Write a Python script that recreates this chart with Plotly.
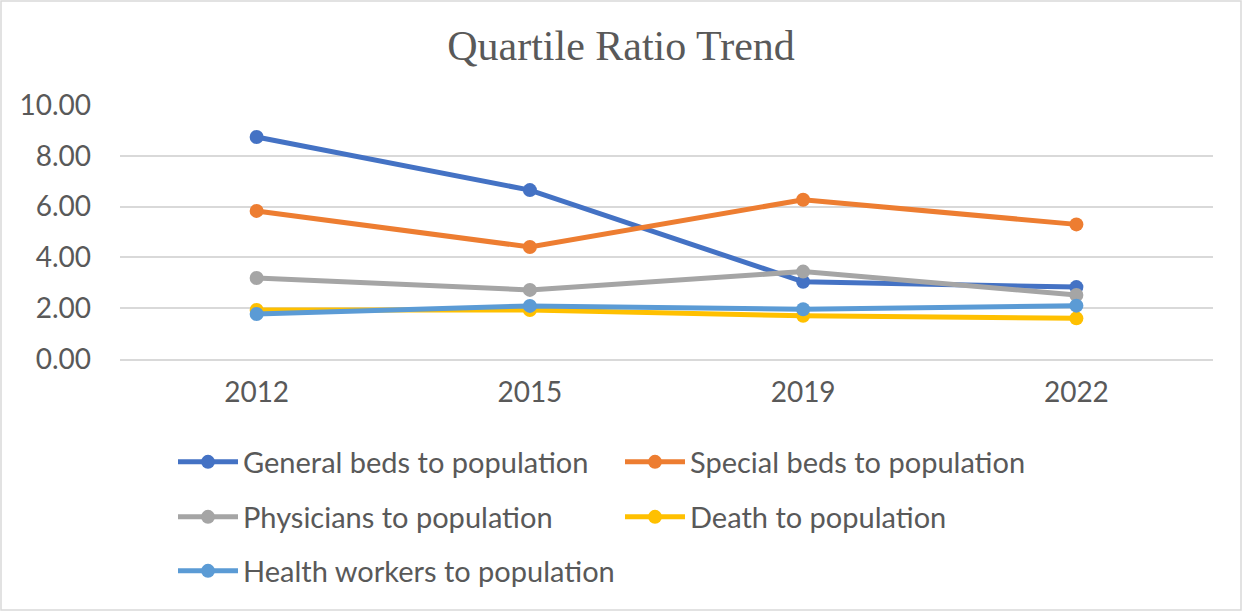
import plotly.graph_objects as go

years = ["2012", "2015", "2019", "2022"]
general_beds = [8.74, 6.65, 3.04, 2.83]
special_beds = [5.83, 4.41, 6.27, 5.30]
physicians = [3.19, 2.72, 3.44, 2.52]
deaths = [1.93, 1.93, 1.70, 1.60]
health_workers = [1.77, 2.09, 1.96, 2.10]
y_ticks = [0, 2, 4, 6, 8, 10]

W, H = 1242, 611
L, R, T, B = 120, 29, 105, 252
pw, ph = W - L - R, H - T - B

series = [
    ("General beds to population", general_beds, "#4472C4", "legend"),
    ("Special beds to population", special_beds, "#ED7D31", "legend"),
    ("Physicians to population", physicians, "#A5A5A5", "legend2"),
    ("Death to population", deaths, "#FFC000", "legend2"),
    ("Health workers to population", health_workers, "#5B9BD5", "legend3"),
]

fig = go.Figure()
for name, vals, color, leg in series:
    fig.add_trace(go.Scatter(
        x=years, y=vals, name=name, mode="lines+markers",
        line=dict(color=color, width=5),
        marker=dict(color=color, size=14),
        legend=leg,
    ))


def px_y(py):
    return (H - B - py) / ph


def px_x(px):
    return (px - L) / pw


text_font = "Lato, Carlito, sans-serif"
leg_font = dict(family=text_font, size=29, color="#595959")
common = dict(orientation="h", xanchor="left", yanchor="middle", font=leg_font,
              entrywidth=372, entrywidthmode="pixels", bgcolor="rgba(0,0,0,0)",
              itemwidth=60, traceorder="normal")

fig.update_layout(
    width=W, height=H,
    margin=dict(l=L, r=R, t=T, b=B),
    paper_bgcolor="white", plot_bgcolor="white",
    title=dict(text="Quartile Ratio Trend", x=0.5, xanchor="center",
               y=1 - 45 / H, yanchor="middle",
               font=dict(family="Liberation Serif, Times New Roman, serif", size=42, color="#595959")),
    legend=dict(x=px_x(173), y=px_y(462), **common),
    legend2=dict(x=px_x(173), y=px_y(517), **common),
    legend3=dict(x=px_x(173), y=px_y(571), **common),
    xaxis=dict(type="category", range=[-0.5, 3.5], showgrid=False,
               showline=True, linecolor="#d9d9d9", linewidth=1.5,
               ticks="", ticklabelstandoff=8,
               tickfont=dict(family=text_font, size=28, color="#595959")),
    yaxis=dict(range=[0, 10], tickvals=y_ticks, tickformat=".2f",
               showgrid=True, gridcolor="#d9d9d9", gridwidth=1.5, zeroline=False,
               ticks="", ticklabelstandoff=28,
               tickfont=dict(family=text_font, size=28, color="#595959")),
    shapes=[dict(type="rect", xref="paper", yref="paper",
                 x0=px_x(1), x1=px_x(W - 1), y0=px_y(H - 1), y1=px_y(1),
                 line=dict(color="#d9d9d9", width=1.5), layer="below")],
)

fig.write_html("out.html", config={"displayModeBar": False},
               post_script="document.body.style.margin='0';")
